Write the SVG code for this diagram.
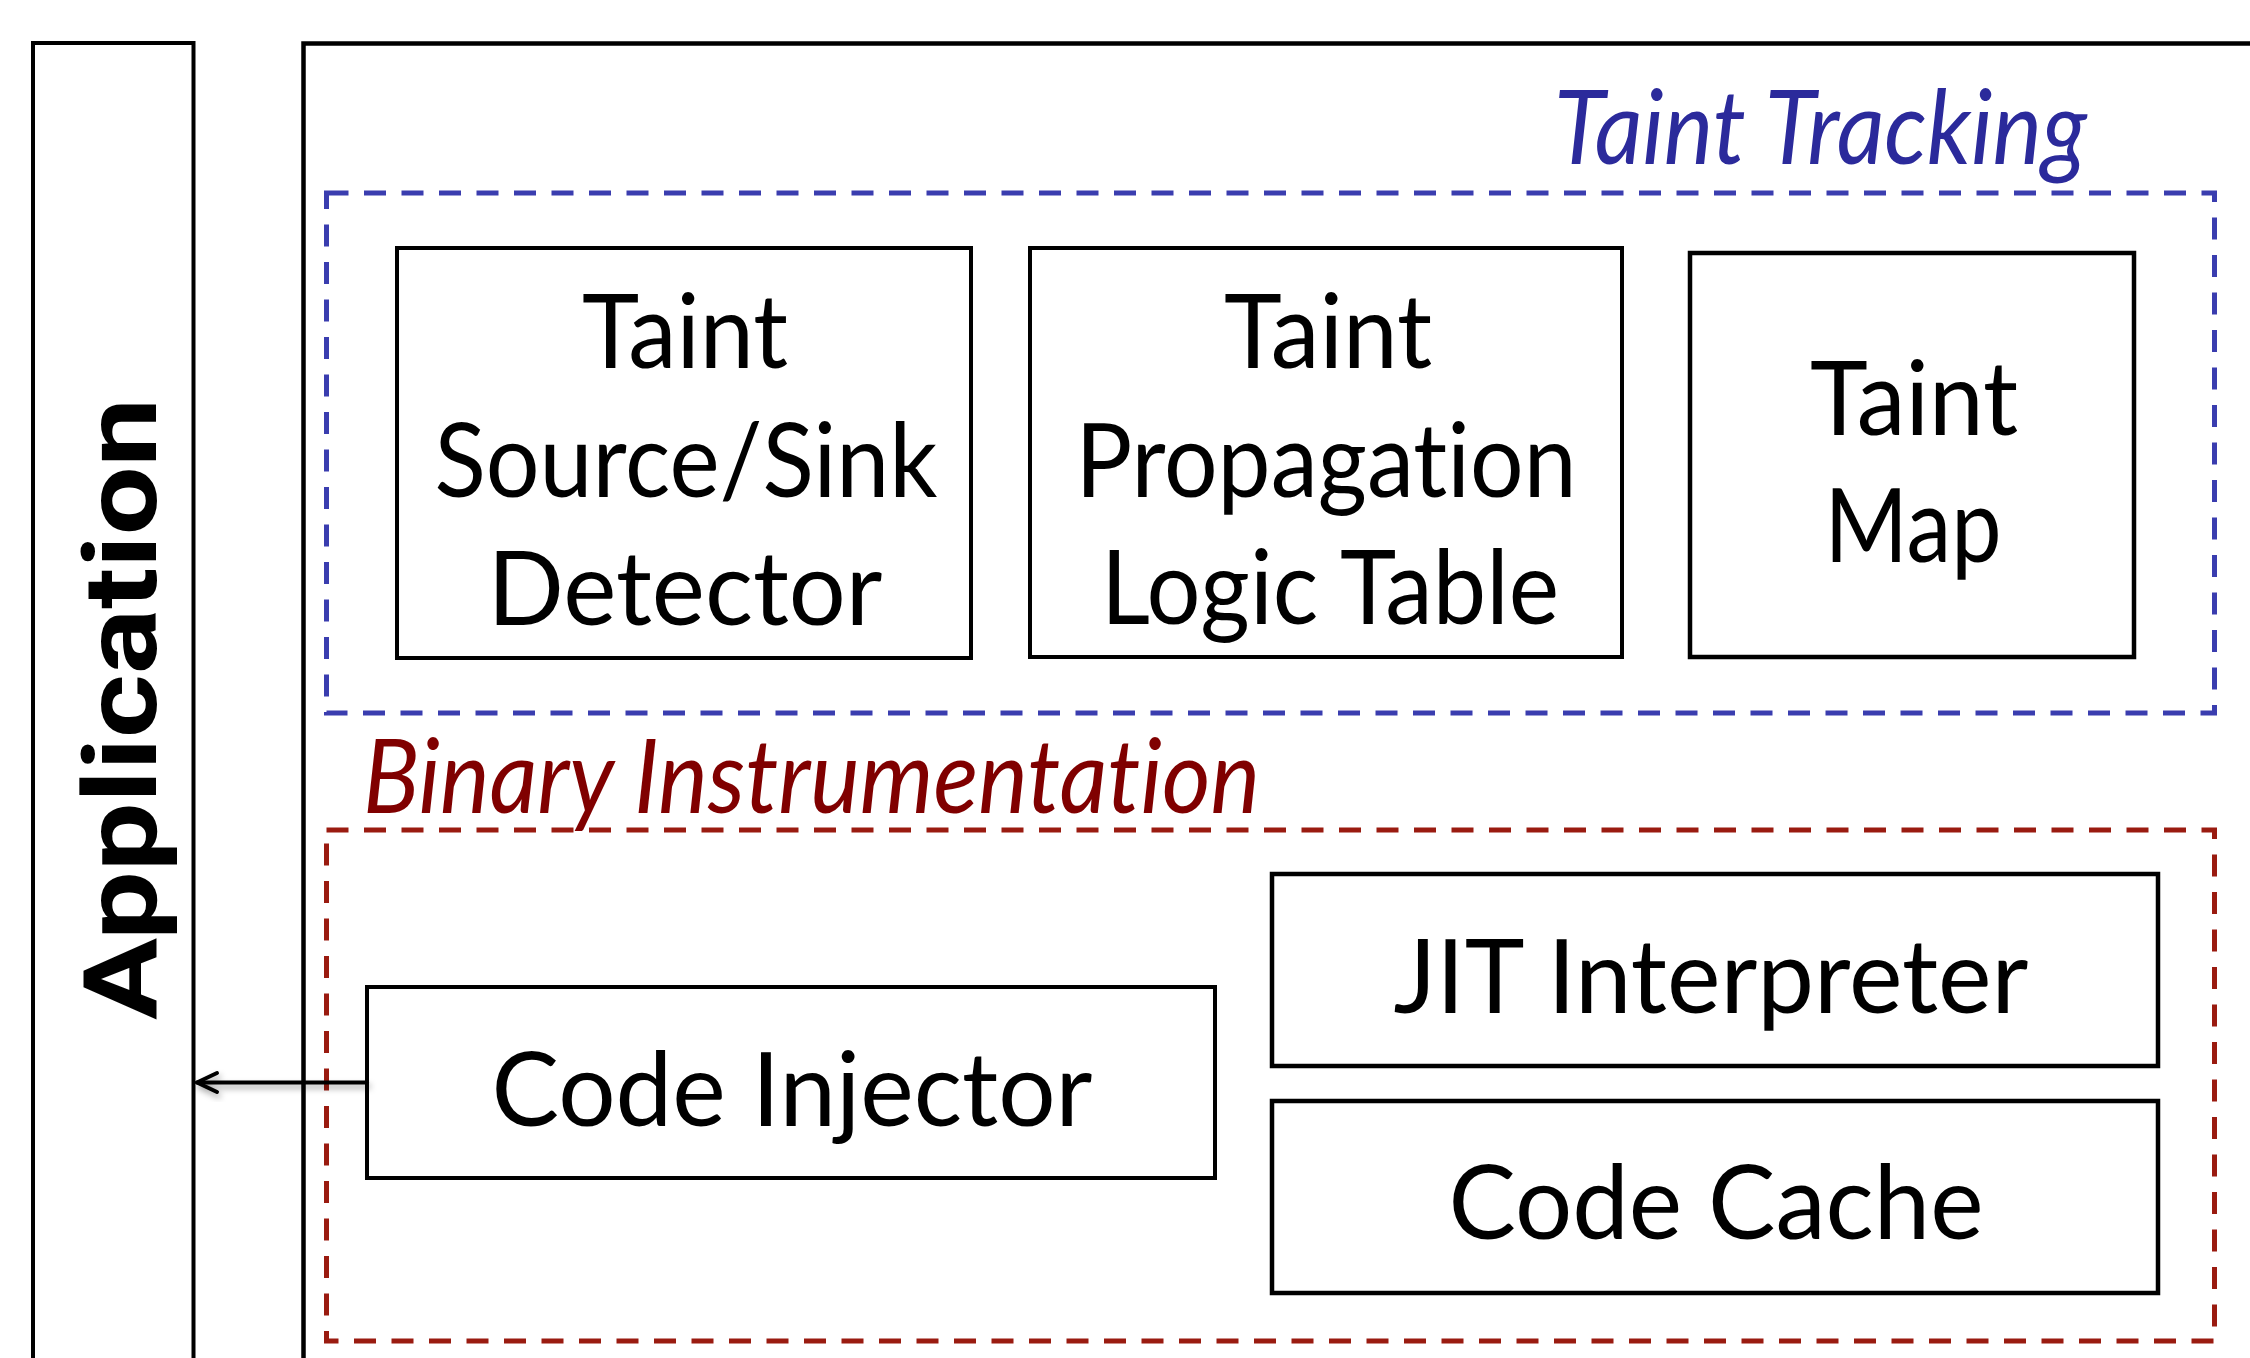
<svg xmlns="http://www.w3.org/2000/svg" width="2250" height="1358" viewBox="0 0 2250 1358">
  <style>
    text { font-variant-ligatures: none; font-feature-settings: "liga" 0, "dlig" 0; }
    .box { fill: #ffffff; stroke: #000000; stroke-width: 4.5; }
    .frame { fill: none; stroke: #000000; stroke-width: 4.5; }
    .blue { fill: none; stroke: #3A3DAF; stroke-width: 5; stroke-dasharray: 22 15.5; }
    .red { fill: none; stroke: #9A1B10; stroke-width: 5; stroke-dasharray: 22 15.5; }
    .lbl { font-family: Lato, "Open Sans", "Liberation Sans", sans-serif; font-size: 102px; fill: #000000; text-anchor: middle; }
    .title { font-family: Lato, "Open Sans", "Liberation Sans", sans-serif; font-size: 102px; font-style: italic; }
    .conn { fill: none; stroke: #000000; stroke-width: 4; stroke-linecap: round; stroke-linejoin: round; }
  </style>
  <defs>
    <filter id="shadow" x="-10%" y="-50%" width="120%" height="200%">
      <feDropShadow dx="2" dy="4" stdDeviation="3" flood-color="#000000" flood-opacity="0.35"/>
    </filter>
  </defs>
  <rect width="2250" height="1358" fill="#ffffff"/>

  <g id="application">
    <path class="frame" d="M33,1400 V43 H193.5 V1400" style="stroke-width:4"/>
    <text transform="translate(156,709) rotate(-90)" text-anchor="middle" font-family="Roboto, 'Liberation Sans', sans-serif" font-weight="bold" font-size="102" textLength="622" lengthAdjust="spacingAndGlyphs">Application</text>
  </g>

  <g id="system">
    <path class="frame" d="M303.5,1400 V43.5 H2300"/>
  </g>

  <g id="taint-tracking">
    <rect class="blue" x="326.5" y="193" width="1888" height="520"/>
    <text class="title" x="1554" y="164" fill="#2B2A9B" textLength="533" lengthAdjust="spacingAndGlyphs">Taint Tracking</text>
  </g>

  <g id="binary-instrumentation">
    <rect class="red" x="326.5" y="830" width="1888" height="511"/>
    <text class="title" x="363" y="813" fill="#800000" textLength="897" lengthAdjust="spacingAndGlyphs">Binary Instrumentation</text>
  </g>

  <g id="source-sink-detector">
    <rect class="box" x="397" y="248" width="574" height="410" style="stroke-width:4"/>
    <text class="lbl" x="685" y="368" textLength="206" lengthAdjust="spacingAndGlyphs">Taint</text>
    <text class="lbl" x="686" y="497" textLength="503" lengthAdjust="spacingAndGlyphs">Source/Sink</text>
    <text class="lbl" x="685" y="625" textLength="395" lengthAdjust="spacingAndGlyphs">Detector</text>
  </g>

  <g id="propagation-logic-table">
    <rect class="box" x="1030" y="248" width="592" height="409" style="stroke-width:4"/>
    <text class="lbl" x="1328" y="368" textLength="208" lengthAdjust="spacingAndGlyphs">Taint</text>
    <text class="lbl" x="1326" y="497" textLength="501" lengthAdjust="spacingAndGlyphs">Propagation</text>
    <text class="lbl" x="1330" y="624" textLength="458" lengthAdjust="spacingAndGlyphs">Logic Table</text>
  </g>

  <g id="taint-map">
    <rect class="box" x="1690" y="253" width="444" height="404"/>
    <text class="lbl" x="1914" y="435" textLength="208" lengthAdjust="spacingAndGlyphs">Taint</text>
    <text class="lbl" x="1913" y="562" textLength="177" lengthAdjust="spacingAndGlyphs">Map</text>
  </g>

  <g id="code-injector">
    <rect class="box" x="367" y="987" width="848" height="191" style="stroke-width:4"/>
    <text class="lbl" x="792" y="1126" textLength="601" lengthAdjust="spacingAndGlyphs">Code Injector</text>
  </g>

  <g id="jit-interpreter">
    <rect class="box" x="1272" y="874" width="886" height="192"/>
    <text class="lbl" x="1711" y="1013" textLength="635" lengthAdjust="spacingAndGlyphs">JIT Interpreter</text>
  </g>

  <g id="code-cache">
    <rect class="box" x="1272" y="1101" width="886" height="192"/>
    <text class="lbl" x="1716" y="1239" textLength="535" lengthAdjust="spacingAndGlyphs">Code Cache</text>
  </g>

  <g id="connectors">
    <g filter="url(#shadow)">
      <path class="conn" d="M367,1082.5 H197"/>
      <path class="conn" d="M217,1073 L197,1082.5 L217,1092"/>
    </g>
  </g>
</svg>
